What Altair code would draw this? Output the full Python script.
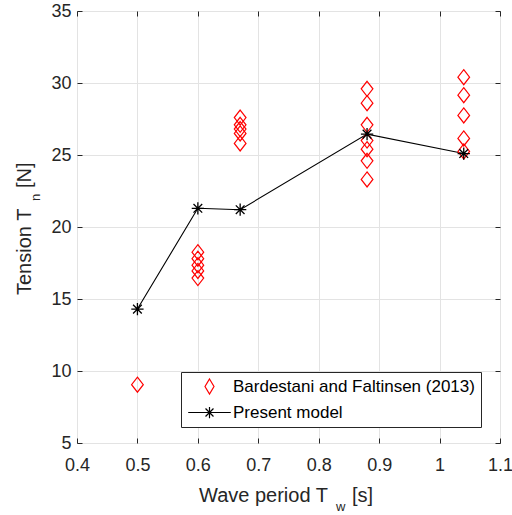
import altair as alt
import pandas as pd

# ---- data ----
series_names = ["Bardestani and Faltinsen (2013)", "Present model"]

exp_period = [0.5,
              0.6, 0.6, 0.6, 0.6, 0.6,
              0.67, 0.67, 0.67, 0.67, 0.67,
              0.88, 0.88, 0.88, 0.88, 0.88, 0.88, 0.88,
              1.04, 1.04, 1.04, 1.04, 1.04]
exp_tension = [9.05,
               18.25, 17.8, 17.35, 16.95, 16.45,
               27.6, 27.1, 26.8, 26.5, 25.8,
               29.6, 28.6, 27.1, 26.0, 25.4, 24.6, 23.3,
               30.4, 29.15, 27.75, 26.15, 25.25]

model_period = [0.5, 0.6, 0.67, 0.88, 1.04]
model_tension = [14.3, 21.3, 21.2, 26.45, 25.1]

x_ticks = [0.4, 0.5, 0.6, 0.7, 0.8, 0.9, 1.0, 1.1]
y_ticks = [5, 10, 15, 20, 25, 30, 35]

exp_df = pd.DataFrame({"T": exp_period, "Tn": exp_tension, "series": series_names[0]})
model_df = pd.DataFrame({"T": model_period, "Tn": model_tension, "series": series_names[1]})
legend_df = pd.DataFrame({"series": series_names})
blank = pd.DataFrame({"k": [0]})

FONT = "Liberation Sans"
AX = "#262626"
GRID = "#e3e3e3"

DIAMOND = "M0,-1L0.78,0L0,1L-0.78,0Z"
STAR = "M-0.82,0L0.82,0M0,-0.82L0,0.82M-0.58,-0.58L0.58,0.58M-0.58,0.58L0.58,-0.58"
LEG_DIAMOND = "M0,-1L0.6,0L0,1L-0.6,0Z"
LEG_STAR_LINE = "M-2.84,0L2.84,0M0,-0.75L0,0.75M-0.53,-0.53L0.53,0.53M-0.53,0.53L0.53,-0.53"

x_scale = alt.Scale(domain=[0.4, 1.1], nice=False, zero=False)
y_scale = alt.Scale(domain=[5, 35], nice=False, zero=False)

x_axis = alt.Axis(values=x_ticks, format=".1~f", title=None, grid=True, gridColor=GRID,
                  domain=False, ticks=True, tickSize=5, offset=-5, tickColor=AX,
                  labelFontSize=18, labelFont=FONT, labelColor=AX, labelPadding=13,
                  labelFlush=False, labelOverlap=False, orient="bottom")
y_axis = alt.Axis(values=y_ticks, title=None, grid=True, gridColor=GRID,
                  domain=False, ticks=True, tickSize=5, offset=-5, tickColor=AX,
                  labelFontSize=18, labelFont=FONT, labelColor=AX, labelPadding=6,
                  labelFlush=False, labelOverlap=False, orient="left")

x_axis_top = alt.Axis(values=x_ticks, title=None, grid=False, domain=False, labels=False,
                      ticks=True, tickSize=5, offset=-5, tickColor=AX, orient="top")
y_axis_right = alt.Axis(values=y_ticks, title=None, grid=False, domain=False, labels=False,
                        ticks=True, tickSize=5, offset=-5, tickColor=AX, orient="right")

line = alt.Chart(model_df).mark_line(color="black", strokeWidth=1.1).encode(
    x=alt.X("T:Q", scale=x_scale, axis=x_axis),
    y=alt.Y("Tn:Q", scale=y_scale, axis=y_axis),
)

diamonds = alt.Chart(exp_df).mark_point(filled=False, strokeWidth=1.2, size=225, opacity=1).encode(
    x=alt.X("T:Q", scale=x_scale, axis=x_axis),
    y=alt.Y("Tn:Q", scale=y_scale, axis=y_axis),
    shape=alt.value(DIAMOND),
    stroke=alt.value("#ff0000"),
)

stars = alt.Chart(model_df).mark_point(filled=False, strokeWidth=1.3, size=225, opacity=1).encode(
    x=alt.X("T:Q", scale=x_scale, axis=x_axis),
    y=alt.Y("Tn:Q", scale=y_scale, axis=y_axis),
    shape=alt.value(STAR),
    stroke=alt.value("black"),
)

legend_cfg = alt.Legend(title=None, orient="none", legendX=104, legendY=361,
                        strokeColor=AX, fillColor="white", padding=6, rowPadding=6,
                        labelFontSize=17, labelFont=FONT, labelColor="black",
                        labelLimit=0,
                        symbolSize=225, symbolStrokeWidth=1.2, symbolOffset=14,
                        labelOffset=15, cornerRadius=0)

legend_layer = alt.Chart(legend_df).mark_point(filled=False, strokeWidth=1.2, size=225, opacity=1).encode(
    shape=alt.Shape("series:N", scale=alt.Scale(domain=series_names,
                                                range=[LEG_DIAMOND, LEG_STAR_LINE]),
                    legend=legend_cfg),
    stroke=alt.Stroke("series:N", scale=alt.Scale(domain=series_names,
                                                  range=["#ff0000", "black"]),
                      legend=legend_cfg),
).transform_filter("false")


def label(text, x, y, size, angle=0):
    return alt.Chart(blank).mark_text(
        text=text, align="left", baseline="alphabetic", fontSize=size,
        font=FONT, color=AX, angle=angle
    ).encode(x=alt.value(x), y=alt.value(y))


titles = [
    label("Wave period T", 122, 491, 20),
    label("w", 259, 500, 13),
    label("[s]", 275, 491, 20),
    label("Tension T", -46.5, 284, 20, angle=270),
    label("n", -37, 190, 13, angle=270),
    label("[N]", -46.5, 177, 20, angle=270),
]

main = alt.layer(line, diamonds, stars, legend_layer, *titles)

ticks_layer = alt.Chart(model_df).mark_point(opacity=0, size=1).encode(
    x=alt.X("T:Q", scale=x_scale, axis=x_axis_top),
    y=alt.Y("Tn:Q", scale=y_scale, axis=y_axis_right),
)

chart = alt.layer(main, ticks_layer).resolve_axis(
    x="independent", y="independent"
).properties(
    width=423, height=432,
    autosize=alt.AutoSizeParams(type="none"),
    padding={"left": 77, "top": 11, "right": 12, "bottom": 72},
).configure_view(stroke=AX, strokeWidth=1)

chart.save("out.html", embed_options={"renderer": "svg", "actions": False})
